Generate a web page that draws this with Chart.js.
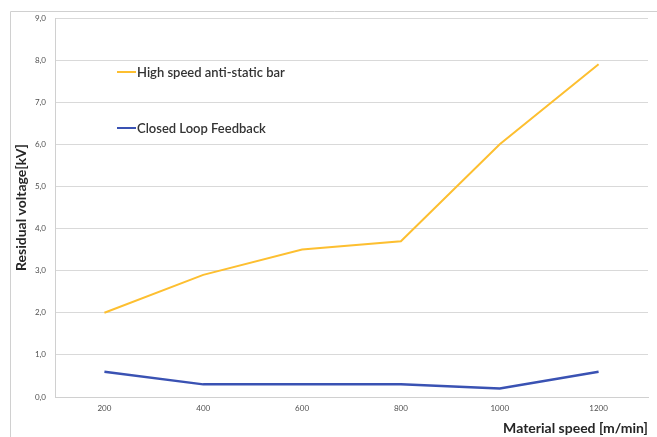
<!DOCTYPE html>
<html>
<head>
<meta charset="utf-8">
<script src="https://cdn.jsdelivr.net/npm/chart.js@4/dist/chart.umd.min.js"></script>
<style>
  html, body { margin: 0; padding: 0; background: #fff; }
  #wrap { width: 657px; height: 437px; }
</style>
</head>
<body>
<div id="wrap"><canvas id="myChart" width="657" height="437"></canvas></div>
<script>
const speeds = ["200", "400", "600", "800", "1000", "1200"];
const antiStaticBar = [2.0, 2.9, 3.5, 3.7, 6.0, 7.9];
const closedLoop = [0.6, 0.3, 0.3, 0.3, 0.2, 0.6];
const seriesNames = ["High speed anti-static bar", "Closed Loop Feedback"];

const FONT = "Lato, 'Open Sans', sans-serif";

// frame round the whole figure + legend inside the plot
const decorations = {
    id: "decorations",
    beforeDraw(chart) {
        const ctx = chart.ctx;
        ctx.save();
        ctx.strokeStyle = "#d0d0d0";
        ctx.lineWidth = 1;
        ctx.beginPath();
        ctx.moveTo(10.5, 440);
        ctx.lineTo(10.5, 11.5);
        ctx.lineTo(660, 11.5);
        ctx.stroke();
        ctx.restore();
    },
    afterDraw(chart) {
        const ctx = chart.ctx;
        const rows = [72, 128];
        ctx.save();
        chart.data.datasets.forEach((ds, i) => {
            const y = rows[i];
            ctx.strokeStyle = ds.borderColor;
            ctx.lineWidth = 2;
            ctx.beginPath();
            ctx.moveTo(117, y);
            ctx.lineTo(136, y);
            ctx.stroke();
            ctx.fillStyle = "#333333";
            ctx.font = "600 13px " + FONT;
            ctx.textBaseline = "middle";
            ctx.fillText(ds.label, 137, y + 0.5);
        });
        ctx.restore();
    }
};

const ctx = document.getElementById("myChart").getContext("2d");
new Chart(ctx, {
    type: "line",
    data: {
        labels: speeds,
        datasets: [
            {
                label: seriesNames[0],
                data: antiStaticBar,
                borderColor: "#FDBF30",
                borderWidth: 2,
                pointRadius: 0,
                tension: 0
            },
            {
                label: seriesNames[1],
                data: closedLoop,
                borderColor: "#3A52B3",
                borderWidth: 2.5,
                pointRadius: 0,
                tension: 0
            }
        ]
    },
    options: {
        responsive: false,
        animation: false,
        layout: {
            padding: { top: 18, bottom: 0, left: 10, right: 9 }
        },
        plugins: {
            legend: { display: false },
            tooltip: { enabled: false }
        },
        scales: {
            x: {
                offset: true,
                grid: { display: false, drawTicks: false },
                border: { color: "#d0d0d0" },
                ticks: {
                    color: "#505050",
                    font: { family: FONT, size: 8 },
                    padding: 7,
                    maxRotation: 0
                },
                title: {
                    display: true,
                    text: "Material speed [m/min]",
                    align: "end",
                    color: "#262626",
                    font: { family: FONT, size: 14, weight: "bold" },
                    padding: { top: 3, bottom: 0 }
                },
                afterFit: (s) => { s.height = 40; }
            },
            y: {
                min: 0,
                max: 9,
                grid: { color: "#d9d9d9", drawTicks: false },
                border: { color: "#d0d0d0" },
                ticks: {
                    stepSize: 1,
                    color: "#505050",
                    font: { family: FONT, size: 8 },
                    padding: 9,
                    callback: (v) => v.toFixed(1).replace(".", ",")
                },
                title: {
                    display: true,
                    text: "Residual voltage[kV]",
                    color: "#262626",
                    font: { family: FONT, size: 14, weight: "bold" },
                    padding: { top: 3, bottom: 0 }
                },
                afterFit: (s) => { s.width = 45; }
            }
        }
    },
    plugins: [decorations]
});
</script>
</body>
</html>
